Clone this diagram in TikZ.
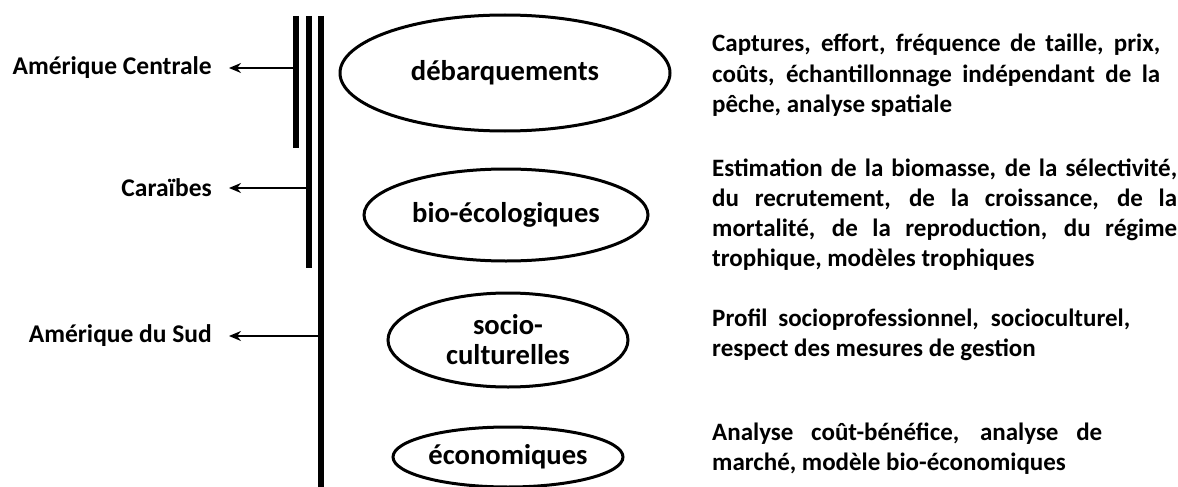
\documentclass[tikz,border=0pt]{standalone}
\usepackage{fontspec}
\setmainfont{Carlito}
\usetikzlibrary{shapes.geometric,arrows.meta}
\begin{document}
\begin{tikzpicture}[x=1pt,y=-1pt,
  bar/.style={line width=6pt},
  link/.style={line width=1.5pt,-{Stealth[length=12pt,width=10pt]}},
  oval/.style={ellipse,draw,line width=3pt,inner sep=0pt},
  ovaltext/.style={font=\fontsize{28.6}{30}\selectfont\bfseries,align=center},
  region/.style={font=\fontsize{25.5}{28}\selectfont\bfseries,inner sep=0pt,anchor=east},
  desc/.style={font=\fontsize{25}{30}\selectfont\bfseries,inner sep=0pt,anchor=base west}]
\useasboundingbox (0,0) rectangle (1178,487);
% vertical bars
\coordinate (b1t) at (296,16); \coordinate (b1b) at (296,148);
\coordinate (b2t) at (308.5,16); \coordinate (b2b) at (308.5,268);
\coordinate (b3t) at (321,16); \coordinate (b3b) at (321,490);
\draw[bar] (b1t) -- (b1b);
\draw[bar] (b2t) -- (b2b);
\draw[bar] (b3t) -- (b3b);
% region labels
\node[region] (ac) at (212,68) {Amérique Centrale};
\node[region] (car) at (212,188) {Caraïbes};
\node[region] (ads) at (212,336) {Amérique du Sud};
\coordinate (s1) at (293,68);
\coordinate (s2) at (305.5,188);
\coordinate (s3) at (318,336);
\draw[link,shorten >=17pt] (s1) -- (ac.east);
\draw[link,shorten >=17pt] (s2) -- (car.east);
\draw[link,shorten >=17pt] (s3) -- (ads.east);
% ovals
\node[oval,minimum width=330pt,minimum height=116pt] (deb) at (505,73) {};
\node[ovaltext] (tdeb) at (deb.center) {débarquements};
\node[oval,minimum width=284pt,minimum height=92pt] (bio) at (506,215) {};
\node[ovaltext] (tbio) at (bio.center) {bio-écologiques};
\node[oval,minimum width=240pt,minimum height=94pt] (soc) at (508,340) {};
\node[ovaltext] (tsoc) at (soc.center) {socio-\\culturelles};
\node[oval,minimum width=230pt,minimum height=60pt] (eco) at (508,457) {};
\node[ovaltext] (teco) at (eco.center) {économiques};
% descriptions
\node[desc] (d1a) at (712,52) {\makebox[448pt][s]{Captures, effort, fréquence de taille, prix,}};
\node[desc] (d1b) at (712,82) {\makebox[448pt][s]{coûts, échantillonnage indépendant de la}};
\node[desc] (d1c) at (712,112) {pêche, analyse spatiale};
\node[desc] (d2a) at (712,176) {\makebox[465pt][s]{Estimation de la biomasse, de la sélectivité,}};
\node[desc] (d2b) at (712,206) {\makebox[465pt][s]{du recrutement, de la croissance, de la}};
\node[desc] (d2c) at (712,236) {\makebox[465pt][s]{mortalité, de la reproduction, du régime}};
\node[desc] (d2d) at (712,266) {trophique, modèles trophiques};
\node[desc] (d3a) at (712,326) {\makebox[418pt][s]{Profil socioprofessionnel, socioculturel,}};
\node[desc] (d3b) at (712,356) {respect des mesures de gestion};
\node[desc] (d4a) at (712,440) {\makebox[390pt][s]{Analyse coût-bénéfice, analyse de}};
\node[desc] (d4b) at (712,470) {marché, modèle bio-économiques};
\end{tikzpicture}
\end{document}
